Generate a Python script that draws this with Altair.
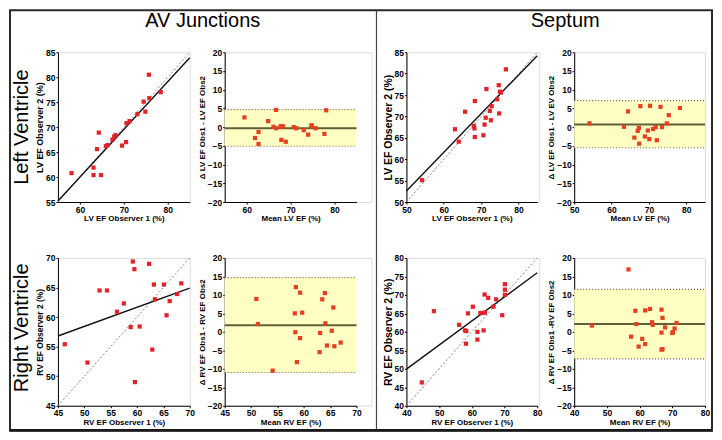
import altair as alt
import pandas as pd

FONT = "Liberation Sans"
RED = "#e3232a"
BA_RED = "#e5401f"
BAND = "#ffffc4"
MEANC = "#5f5f38"

# ---------------- data ----------------
# Left ventricle, AV junctions: observer agreement
lv_av_obs1 = [58.1, 63.1, 63.1, 64.8, 63.9, 64.3, 65.9, 66.3, 67.4, 67.8, 68.1, 69.6, 70.5, 70.6, 71.3, 73.1, 74.5, 74.9, 75.7, 75.8, 78.4]
lv_av_obs2 = [60.8, 61.9, 60.4, 60.4, 65.6, 68.9, 66.2, 66.4, 67.5, 68.1, 68.4, 66.3, 67.0, 70.8, 71.2, 72.6, 75.1, 73.1, 80.5, 75.8, 77.0]
lv_av_fit = [55.2, 83.9]
lv_av_mean = [59.5, 61.9, 62.7, 62.7, 64.9, 66.1, 66.7, 66.7, 67.7, 68.0, 68.3, 67.9, 68.9, 70.7, 71.3, 73.0, 74.0, 74.7, 74.8, 75.7, 77.7, 78.1]
lv_av_diff = [2.6, -2.9, -1.3, -4.5, 1.6, 0.1, 4.6, -0.3, 0.2, 0.2, 0.2, -3.4, -3.9, 0.0, -0.3, -0.8, -2.0, 0.2, 0.5, -0.3, -1.8, 4.5]
lv_av_limits = [-0.3, 4.7, -5.1]  # mean, upper, lower

# Left ventricle, septum
lv_sep_obs1 = [54.2, 63.0, 64.0, 65.7, 68.3, 68.0, 68.2, 68.3, 70.6, 70.9, 71.2, 71.4, 72.3, 72.6, 72.8, 74.3, 74.7, 74.8, 75.0, 75.3, 76.6]
lv_sep_obs2 = [55.1, 67.0, 64.1, 71.1, 73.6, 67.8, 67.2, 65.2, 65.6, 68.1, 69.7, 76.4, 71.3, 69.1, 72.4, 74.0, 77.3, 70.7, 75.8, 75.6, 81.0]
lv_sep_fit = [52.6, 84.2]
lv_sep_mean = [54.1, 63.3, 64.4, 66.1, 67.0, 67.3, 67.4, 67.7, 68.9, 69.7, 70.1, 70.3, 71.1, 71.8, 72.1, 73.1, 73.5, 74.8, 75.3, 78.3]
lv_sep_diff = [1.0, 0.1, 4.2, -2.8, -1.0, -0.2, -4.4, 5.6, -2.5, -0.9, -3.2, 5.7, -0.5, 0.0, -3.5, 5.4, 0.0, 1.0, 3.2, 5.1]
lv_sep_limits = [0.7, 7.1, -5.5]

# Right ventricle, AV junctions
rv_av_obs1 = [46.3, 50.6, 52.9, 54.3, 56.2, 57.5, 58.8, 59.2, 59.5, 59.6, 60.5, 62.3, 62.9, 63.2, 63.4, 65.1, 65.6, 66.2, 67.6, 68.4]
rv_av_obs2 = [55.4, 52.3, 64.5, 64.5, 60.9, 62.3, 58.3, 69.4, 68.1, 49.0, 58.4, 69.0, 54.5, 65.5, 63.0, 65.5, 60.3, 62.7, 63.9, 65.7]
rv_av_fit = [56.8, 64.9]
rv_av_mean = [51.0, 51.3, 54.1, 58.3, 58.4, 58.5, 58.7, 59.3, 59.3, 59.7, 63.0, 63.1, 63.5, 64.0, 64.1, 64.4, 65.3, 65.6, 65.8, 67.0]
rv_av_diff = [8.9, 2.1, -10.5, 5.0, -0.1, 12.1, -8.2, 10.6, -1.7, 5.2, -5.5, -0.3, 8.8, 10.5, 2.3, -3.7, 0.3, 6.6, -3.9, -2.9]
rv_av_limits = [1.8, 14.7, -11.0]

# Right ventricle, septum
rv_sep_obs1 = [44.7, 48.4, 56.1, 57.9, 58.3, 58.2, 58.8, 60.3, 61.7, 61.7, 62.6, 63.2, 63.6, 63.9, 65.0, 66.6, 67.4, 69.3, 70.1, 70.1, 70.1, 64.0]
rv_sep_obs2 = [46.3, 65.6, 61.9, 60.4, 60.2, 56.8, 65.0, 66.8, 60.0, 57.9, 65.1, 65.1, 60.4, 70.1, 69.2, 66.8, 68.8, 64.5, 72.9, 71.4, 70.0, 65.2]
rv_sep_fit = [49.9, 76.0]
rv_sep_mean = [45.4, 56.6, 57.4, 58.7, 59.0, 59.7, 60.8, 61.7, 61.7, 63.2, 63.8, 64.0, 66.7, 66.7, 67.0, 66.7, 67.0, 67.8, 70.0, 70.2, 70.7, 71.3]
rv_sep_diff = [1.7, 16.9, -1.3, 5.7, 2.1, -4.0, -1.9, -3.3, 5.8, 6.2, 2.6, 1.9, -0.2, 6.0, 3.8, -4.8, -4.7, 1.2, -0.3, -0.1, 0.9, 2.4]
rv_sep_limits = [2.1, 11.5, -7.3]

ba_ticks = [-20, -15, -10, -5, 0, 5, 10, 15, 20]


def axis(values, title, size=8):
    return alt.Axis(values=values, title=title, grid=False, labelFlush=False,
                    labelOverlap=False, tickSize=2, tickColor="black",
                    domainColor="black", domainWidth=1, labelFont=FONT,
                    labelFontSize=8.5, labelFontWeight="bold", labelColor="black",
                    labelPadding=1, titleFont=FONT, titleFontSize=size,
                    titleFontWeight="bold", titleColor="black", titlePadding=1)


def scatter_panel(o1, o2, dom, xt, yt, fit, xtitle, ytitle, w, rng, h, ysize=8):
    xs = alt.Scale(domain=dom, range=[0, rng], nice=False, zero=False)
    ys = alt.Scale(domain=dom, nice=False, zero=False)
    X = alt.X("a:Q", scale=xs, axis=axis(xt, xtitle))
    Y = alt.Y("b:Q", scale=ys, axis=axis(yt, ytitle, ysize))
    ident = alt.Chart(pd.DataFrame({"a": dom, "b": dom})).mark_line(
        color="#8a8a8a", strokeDash=[2, 2], strokeWidth=1).encode(x=X, y=Y)
    reg = alt.Chart(pd.DataFrame({"a": dom, "b": fit})).mark_line(
        color="#111111", strokeWidth=1.4).encode(x=X, y=Y)
    pts = alt.Chart(pd.DataFrame({"a": o1, "b": o2})).mark_square(
        size=18, color=RED, opacity=1).encode(x=X, y=Y)
    return [ident, reg, pts], dict(width=w, height=h)


def ba_panel(m, d, dom, xt, lim, xtitle, ytitle, w, rng, h):
    xs = alt.Scale(domain=dom, range=[0, rng], nice=False, zero=False)
    ys = alt.Scale(domain=[-20, 20], nice=False, zero=False)
    X = alt.X("m:Q", scale=xs, axis=axis(xt, xtitle))
    Y = alt.Y("d:Q", scale=ys, axis=axis(ba_ticks, ytitle))
    band = alt.Chart(pd.DataFrame({"m": [dom[0]], "m2": [dom[1]], "d": [lim[2]], "d2": [lim[1]]})).mark_rect(
        color=BAND).encode(x=X, x2="m2:Q", y=Y, y2="d2:Q")
    lims = alt.Chart(pd.DataFrame({"m": [dom[0]] * 2, "m2": [dom[1]] * 2, "d": [lim[1], lim[2]]})).mark_rule(
        color="#6a6a40", strokeDash=[1, 2], strokeWidth=1.2).encode(x=X, x2="m2:Q", y=Y)
    mean = alt.Chart(pd.DataFrame({"m": [dom[0]], "m2": [dom[1]], "d": [lim[0]]})).mark_rule(
        color=MEANC, strokeWidth=2).encode(x=X, x2="m2:Q", y=Y)
    pts = alt.Chart(pd.DataFrame({"m": m, "d": d})).mark_square(
        size=18, color=BA_RED, opacity=1).encode(x=X, y=Y)
    return [band, lims, mean, pts], dict(width=w, height=h)


one = pd.DataFrame({"k": [0]})


def label(text, x, y, size=20, angle=0):
    return alt.Chart(pd.DataFrame({"t": [text]})).mark_text(
        font=FONT, fontSize=size, align="center", baseline="alphabetic",
        angle=angle, color="black").encode(text="t:N", x=alt.value(x), y=alt.value(y))


frame = alt.Chart(one).mark_rect(fillOpacity=0, stroke="#2a2a2a", strokeWidth=2).encode(
    x=alt.value(-48), x2=alt.value(655), y=alt.value(-42), y2=alt.value(379))
divider = alt.Chart(one).mark_rule(color="#444444", strokeWidth=1.2).encode(
    x=alt.value(319), y=alt.value(-42), y2=alt.value(379))
bottom = alt.Chart(one).mark_rule(color="#1a1a1a", strokeWidth=2.5).encode(
    x=alt.value(-48), x2=alt.value(655), y=alt.value(378.6))

H1, H2 = 150, 148

l1, p1 = scatter_panel(lv_av_obs1, lv_av_obs2, [55, 85], [60, 70, 80], [55, 60, 65, 70, 75, 80, 85],
                       lv_av_fit, "LV EF Observer 1 (%)", "LV EF Observer 2 (%)", 132, 132, H1, 9)
panel1 = alt.layer(frame, divider, bottom, *l1,
                   label("AV Junctions", 145, -25), label("Left Ventricle", -30, 75, angle=270)).properties(**p1)

l2, p2 = ba_panel(lv_av_mean, lv_av_diff, [55, 85], [60, 70, 80], lv_av_limits,
                  "Mean LV EF (%)", "\u0394 LV EF Obs1 - LV EF Obs2", 147, 132, H1)
panel2 = alt.layer(*l2).properties(**p2)

l3, p3 = scatter_panel(lv_sep_obs1, lv_sep_obs2, [50, 85], [50, 60, 70, 80], [50, 55, 60, 65, 70, 75, 80, 85],
                       lv_sep_fit, "LV EF Observer 1 (%)", "LV EF Observer 2 (%)", 133, 131, H1, 10.5)
panel3 = alt.layer(*l3, label("Septum", 159, -25)).properties(**p3)

l4, p4 = ba_panel(lv_sep_mean, lv_sep_diff, [50, 85], [50, 60, 70, 80], lv_sep_limits,
                  "Mean LV EF (%)", "\u0394 LV EF Obs1 - LV EV Obs2", 131, 131, H1)
panel4 = alt.layer(*l4).properties(**p4)

l5, p5 = scatter_panel(rv_av_obs1, rv_av_obs2, [45, 70], [45, 50, 55, 60, 65, 70], [45, 50, 55, 60, 65, 70],
                       rv_av_fit, "RV EF Observer 1 (%)", "RV EF Observer 2 (%)", 132, 132, H2, 8.5)
panel5 = alt.layer(*l5, label("Right Ventricle", -30, 70, angle=270)).properties(**p5)

l6, p6 = ba_panel(rv_av_mean, rv_av_diff, [45, 70], [45, 50, 55, 60, 65, 70], rv_av_limits,
                  "Mean RV EF (%)", "\u0394 RV EF Obs1 - RV EF Obs2", 147, 132, H2)
panel6 = alt.layer(*l6).properties(**p6)

l7, p7 = scatter_panel(rv_sep_obs1, rv_sep_obs2, [40, 80], [40, 50, 60, 70, 80],
                       [40, 45, 50, 55, 60, 65, 70, 75, 80],
                       rv_sep_fit, "RV EF Observer 1 (%)", "RV EF Observer 2 (%)", 133, 131, H2, 10.5)
panel7 = alt.layer(*l7).properties(**p7)

l8, p8 = ba_panel(rv_sep_mean, rv_sep_diff, [40, 80], [40, 50, 60, 70, 80], rv_sep_limits,
                  "Mean RV EF (%)", "\u0394 RV EF Obs1 -RV EF Obs2", 131, 131, H2)
panel8 = alt.layer(*l8).properties(**p8)

chart = alt.concat(panel1, panel2, panel3, panel4, panel5, panel6, panel7, panel8,
                   columns=4, spacing={"row": 56, "column": 35}, bounds="flush", align="each"
                   ).properties(padding=0, background="white"
                   ).configure_view(strokeWidth=0
                   ).configure(font=FONT)

chart.save("out.html", embed_options={"renderer": "svg", "actions": False})
